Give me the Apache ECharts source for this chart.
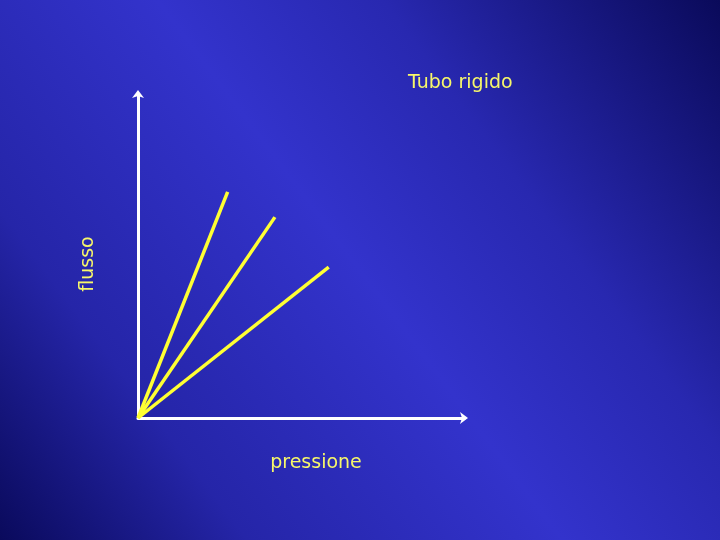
<!DOCTYPE html>
<html>
<head>
<meta charset="utf-8">
<script src="https://cdn.jsdelivr.net/npm/echarts@6/dist/echarts.min.js"></script>
<style>
html,body{margin:0;padding:0;}
#c{width:720px;height:540px;}
</style>
</head>
<body>
<div id="c"></div>
<script>
// Data (abstract units, axes 0..10)
const seriesNames = ['linea1', 'linea2', 'linea3'];
const pressioneEnd = [2.75, 4.2, 5.85];
const flussoEnd = [6.98, 6.2, 4.66];
const titleText = 'Tubo rigido';
const xName = 'pressione';
const yName = 'flusso';

const chart = echarts.init(document.getElementById('c'), null, {renderer: 'canvas'});
const yellowText = '#f7f76a';
const fontFam = 'DejaVu Sans';

const series = seriesNames.map((n, i) => ({
  name: n,
  type: 'line',
  data: [[0, 0], [pressioneEnd[i], flussoEnd[i]]],
  symbol: 'none',
  lineStyle: {color: '#ffff33', width: 3.5},
  clip: false,
  z: 5
}));

chart.setOption({
  animation: false,
  backgroundColor: {
    type: 'linear', x: 0, y: 1, x2: 1, y2: 0,
    colorStops: [
      {offset: 0, color: '#0a0a5c'},
      {offset: 0.22, color: '#2525a8'},
      {offset: 0.5, color: '#3333cc'},
      {offset: 0.7, color: '#2828b0'},
      {offset: 1, color: '#0a0a5a'}
    ]
  },
  title: {
    text: titleText,
    left: 403, top: 69,
    textStyle: {color: yellowText, fontSize: 19, fontWeight: 'normal', fontFamily: fontFam}
  },
  grid: {left: 138, top: 94, width: 326, height: 324, containLabel: false},
  xAxis: {
    type: 'value', min: 0, max: 10,
    name: xName, nameLocation: 'middle', nameGap: 36,
    nameTextStyle: {color: yellowText, fontSize: 19, fontFamily: fontFam, padding: [0, 0, 0, 30]},
    axisLine: {show: true, lineStyle: {color: '#ffffff', width: 3}, symbol: ['none', 'arrow'], symbolSize: [9, 8], symbolOffset: [0, 4]},
    axisTick: {show: false}, axisLabel: {show: false}, splitLine: {show: false}
  },
  yAxis: {
    type: 'value', min: 0, max: 10,
    name: yName, nameLocation: 'middle', nameGap: 40, nameRotate: 90,
    nameTextStyle: {color: yellowText, fontSize: 19, fontFamily: fontFam, padding: [0, 16, 0, 0]},
    axisLine: {show: true, lineStyle: {color: '#ffffff', width: 3}, symbol: ['none', 'arrow'], symbolSize: [9, 8], symbolOffset: [0, 4]},
    axisTick: {show: false}, axisLabel: {show: false}, splitLine: {show: false}
  },
  series: series
});
</script>
</body>
</html>
